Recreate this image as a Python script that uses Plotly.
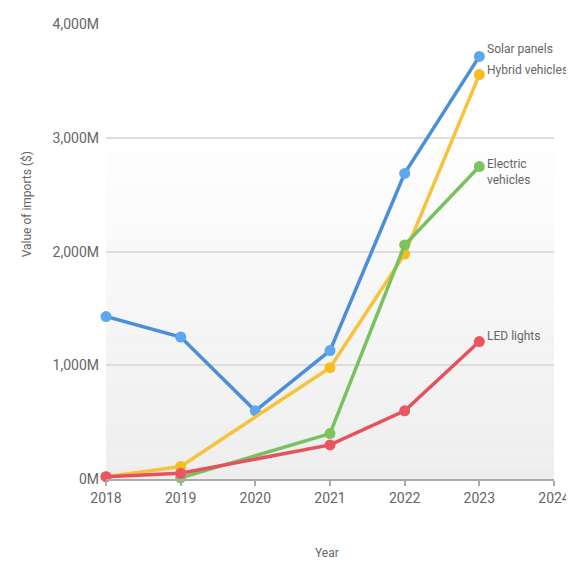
import plotly.graph_objects as go

years = [2018, 2019, 2020, 2021, 2022, 2023]
solar = [1430, 1250, 600, 1130, 2690, 3720]
hybrid = [20, 110, None, 980, 1980, 3560]
electric = [None, 10, None, 400, 2060, 2750]
led = [20, 50, None, 300, 600, 1210]

series = [
    ("Solar panels", solar, "#4a8fd8", "#5ca7ef"),
    ("Hybrid vehicles", hybrid, "#f6c33a", "#f7bd1e"),
    ("Electric vehicles", electric, "#79c160", "#7cc45f"),
    ("LED lights", led, "#e4535c", "#ea5560"),
]

y_ticks = [0, 1000, 2000, 3000, 4000]
y_tick_text = ["0M", "1,000M", "2,000M", "3,000M", "4,000M"]
x_ticks = [2018, 2019, 2020, 2021, 2022, 2023, 2024]

FONT = "Roboto, sans-serif"
TXT = "#666666"

fig = go.Figure()
for name, vals, lc, mc in series:
    fig.add_trace(go.Scatter(
        x=years, y=vals, mode="lines+markers", name=name,
        connectgaps=True,
        line=dict(color=lc, width=3.5),
        marker=dict(color=mc, size=11),
        cliponaxis=False, hoverinfo="skip",
    ))

# subtle vertical gradient in plot background
n = 24
for i in range(n):
    y0 = 3000 * i / n
    y1 = 3000 * (i + 1) / n
    t = i / (n - 1)
    g = int(round(238 + (254 - 238) * t))
    fig.add_shape(type="rect", xref="x", yref="y", x0=2018, x1=2024, y0=y0, y1=y1,
                  fillcolor=f"rgb({g},{g},{g})", line=dict(width=0), layer="below")

labels = [
    (solar[-1], "Solar panels", 7),
    (hybrid[-1], "Hybrid vehicles", 5),
    (electric[-1], "Electric<br>vehicles", -5),
    (led[-1], "LED lights", 6),
]
for yv, txt, dy in labels:
    fig.add_annotation(x=2023, y=yv, text=txt, showarrow=False, xanchor="left",
                       xshift=6, yshift=dy, align="left",
                       font=dict(family=FONT, size=12, color=TXT))

fig.add_annotation(x=-0.176, y=0.604, xref="paper", yref="paper", text="Value of imports ($)",
                   showarrow=False, textangle=-90, xanchor="center", yanchor="middle",
                   font=dict(family=FONT, size=12, color=TXT))
fig.add_annotation(x=0.493, y=-0.163, xref="paper", yref="paper", text="Year",
                   showarrow=False, xanchor="center", yanchor="middle",
                   font=dict(family=FONT, size=12, color=TXT))

fig.update_layout(
    width=566, height=555,
    margin=dict(l=98, r=20, t=16, b=84, autoexpand=False),
    paper_bgcolor="white", plot_bgcolor="rgba(0,0,0,0)",
    showlegend=False,
    font=dict(family=FONT, size=14, color=TXT),
    xaxis=dict(range=[2018, 2024], tickvals=x_ticks, ticktext=[str(v) for v in x_ticks],
               showgrid=False, zeroline=False, showline=True, linecolor="#aaaaaa", linewidth=1.5,
               ticks="outside", ticklen=5, tickcolor="#aaaaaa", tickwidth=1.5,
               tickfont=dict(family=FONT, size=14, color=TXT), automargin=False),
    yaxis=dict(range=[0, 4005], tickvals=y_ticks, ticktext=y_tick_text,
               showgrid=True, gridcolor="#dddddd", gridwidth=1.5, zeroline=False,
               tickfont=dict(family=FONT, size=14, color=TXT), ticks="", ticklabelstandoff=6,
               automargin=False),
)

fig.update_yaxes(layer="below traces")
fig.write_html("out.html")
